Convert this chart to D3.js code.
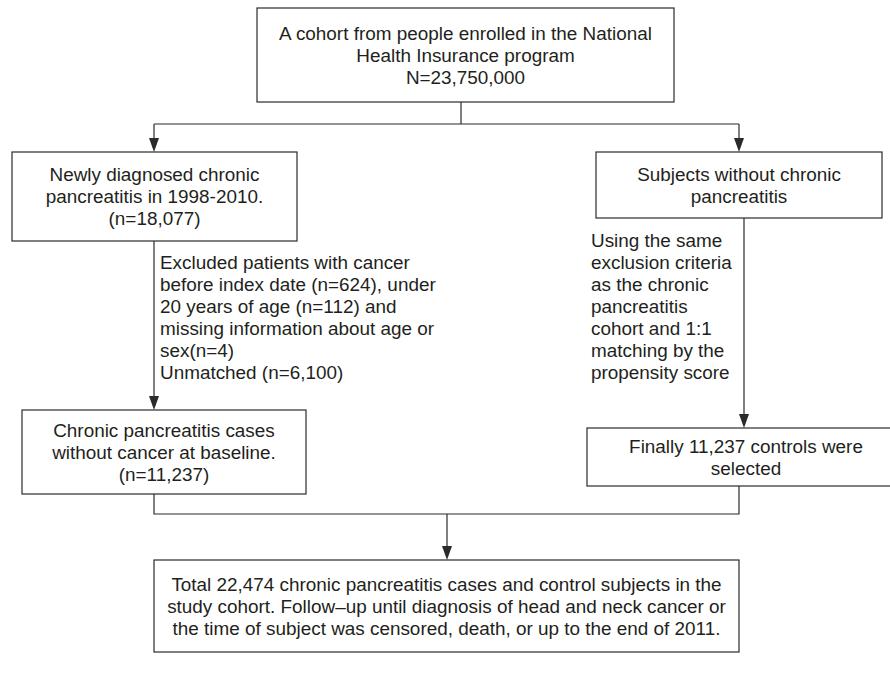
<!DOCTYPE html>
<html>
<head>
<meta charset="utf-8">
<script src="https://cdn.jsdelivr.net/npm/d3@7"></script>
<style>
  body { margin: 0; background: #fff; }
  svg { display: block; }
</style>
</head>
<body>
<div id="chart"></div>
<script>
// Box texts (one array per box, one entry per line)
const cohortLines = ["A cohort from people enrolled in the National", "Health Insurance program", "N=23,750,000"];
const cpLines = ["Newly diagnosed chronic", "pancreatitis in 1998-2010.", "(n=18,077)"];
const noCpLines = ["Subjects without chronic", "pancreatitis"];
const cpFinalLines = ["Chronic pancreatitis cases", "without cancer at baseline.", "(n=11,237)"];
const ctrlFinalLines = ["Finally 11,237 controls were", "selected"];
const totalLines = [
    "Total 22,474 chronic pancreatitis cases and control subjects in the",
    "study cohort. Follow\u2013up until diagnosis of head and neck cancer or",
    "the time of subject was censored, death, or up to the end of 2011."
];

// Side notes on the two vertical arrows
const excludedLines = [
    "Excluded patients with cancer",
    "before index date (n=624), under",
    "20 years of age (n=112) and",
    "missing information about age or",
    "sex(n=4)",
    "Unmatched (n=6,100)"
];
const matchingLines = [
    "Using the same",
    "exclusion criteria",
    "as the chronic",
    "pancreatitis",
    "cohort and 1:1",
    "matching by the",
    "propensity score"
];

const width = 890;
const height = 688;
const fontSize = 18.9;
const lineGap = 22;
const ink = "#2b2b2b";
const font = "'Liberation Sans', Arial, Helvetica, sans-serif";

// Box geometry
const boxes = [
    { lines: cohortLines,    x0: 257, x1: 674, y0: 8,   y1: 102 },
    { lines: cpLines,        x0: 12,  x1: 297, y0: 152, y1: 241 },
    { lines: noCpLines,      x0: 596, x1: 882, y0: 152, y1: 218 },
    { lines: cpFinalLines,   x0: 22,  x1: 306, y0: 410, y1: 494 },
    { lines: ctrlFinalLines, x0: 587, x1: 905, y0: 428, y1: 486 },
    { lines: totalLines,     x0: 154, x1: 739, y0: 560, y1: 652 }
];

// Connectors, the ones with arrow end on a box edge
const connectors = [
    { pts: [[461, 102], [461, 124]], arrow: false },
    { pts: [[154, 124], [739, 124]], arrow: false },
    { pts: [[154, 124], [154, 152]], arrow: true },
    { pts: [[739, 124], [739, 152]], arrow: true },
    { pts: [[154, 241], [154, 410]], arrow: true },
    { pts: [[744, 218], [744, 428]], arrow: true },
    { pts: [[154, 494], [154, 514], [739, 514], [739, 486]], arrow: false },
    { pts: [[447, 514], [447, 560]], arrow: true }
];

const notes = [
    { lines: excludedLines, x: 160, y: 262 },
    { lines: matchingLines, x: 591, y: 240 }
];

const svg = d3.select("#chart")
    .append("svg")
    .attr("width", width)
    .attr("height", height)
    .attr("viewBox", [0, 0, width, height]);

const line = d3.line();

// Connectors
const links = svg.append("g");

links.selectAll("path")
    .data(connectors)
    .join("path")
    .attr("fill", "none")
    .attr("stroke", ink)
    .attr("stroke-width", 1.2)
    .attr("d", d => {
        const pts = d.pts.map(p => p.slice());
        if (d.arrow) pts[pts.length - 1][1] -= 12; // line stops under the head
        return line(pts);
    });

// Arrow heads
links.selectAll("path.head")
    .data(connectors.filter(d => d.arrow))
    .join("path")
    .attr("class", "head")
    .attr("fill", ink)
    .attr("d", d => {
        const [x, y] = d.pts[d.pts.length - 1];
        return line([[x - 5, y - 14], [x + 5, y - 14], [x, y]]) + "Z";
    });

// Boxes
const box = svg.append("g")
    .selectAll("g")
    .data(boxes)
    .join("g");

box.append("rect")
    .attr("x", d => d.x0)
    .attr("y", d => d.y0)
    .attr("width", d => d.x1 - d.x0)
    .attr("height", d => d.y1 - d.y0)
    .attr("fill", "#fff")
    .attr("stroke", ink)
    .attr("stroke-width", 1.2);

box.append("text")
    .attr("font-family", font)
    .attr("font-size", fontSize)
    .attr("fill", "#231f20")
    .attr("text-anchor", "middle")
    .selectAll("tspan")
    .data(d => {
        const n = d.lines.length;
        const cx = (d.x0 + Math.min(d.x1, width + 15)) / 2;
        const cy = (d.y0 + d.y1) / 2;
        return d.lines.map((t, i) => ({ t, x: cx, y: cy + (i - (n - 1) / 2) * lineGap }));
    })
    .join("tspan")
    .attr("x", d => d.x)
    .attr("y", d => d.y)
    .attr("dy", "0.35em")
    .text(d => d.t);

// Side notes
svg.append("g")
    .attr("font-family", font)
    .attr("font-size", fontSize)
    .attr("fill", "#231f20")
    .selectAll("text")
    .data(notes)
    .join("text")
    .selectAll("tspan")
    .data(d => d.lines.map((t, i) => ({ t, x: d.x, y: d.y + i * lineGap })))
    .join("tspan")
    .attr("x", d => d.x)
    .attr("y", d => d.y)
    .attr("dy", "0.35em")
    .text(d => d.t);
</script>
</body>
</html>
